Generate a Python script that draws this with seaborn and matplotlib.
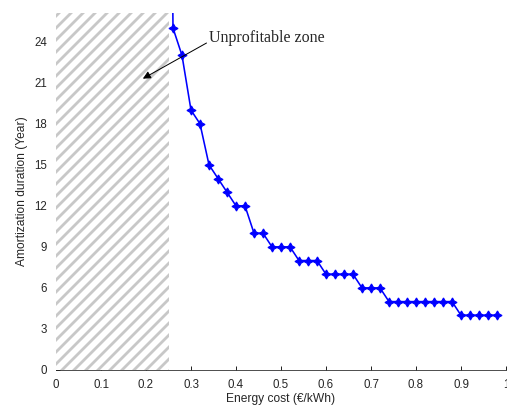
import numpy as np
import matplotlib
matplotlib.use("Agg")
import matplotlib.pyplot as plt
import seaborn as sns
import pandas as pd

# Energy cost (EUR/kWh) and amortization duration (years)
energy_cost = [0.25, 0.26, 0.28, 0.30, 0.32, 0.34, 0.36, 0.38, 0.40, 0.42, 0.44,
               0.46, 0.48, 0.50, 0.52, 0.54, 0.56, 0.58, 0.60, 0.62, 0.64,
               0.66, 0.68, 0.70, 0.72, 0.74, 0.76, 0.78, 0.80, 0.82, 0.84,
               0.86, 0.88, 0.90, 0.92, 0.94, 0.96, 0.98]
duration = [60, 25, 23, 19, 18, 15, 14, 13, 12, 12, 10,
            10, 9, 9, 9, 8, 8, 8, 7, 7, 7,
            7, 6, 6, 6, 5, 5, 5, 5, 5, 5,
            5, 5, 4, 4, 4, 4, 4]
x_ticks = [0, 0.1, 0.2, 0.3, 0.4, 0.5, 0.6, 0.7, 0.8, 0.9, 1]
x_tick_labels = ["0", "0.1", "0.2", "0.3", "0.4", "0.5", "0.6", "0.7", "0.8", "0.9", "1"]
y_ticks = [0, 3, 6, 9, 12, 15, 18, 21, 24]
zone_limit = 0.25

df = pd.DataFrame({"cost": energy_cost, "years": duration})

sns.set_style("ticks")
plt.rcParams["font.family"] = ["Liberation Sans", "DejaVu Sans"]
plt.rcParams["hatch.linewidth"] = 2.8
plt.rcParams["xtick.direction"] = "in"
plt.rcParams["ytick.direction"] = "in"

fig = plt.figure(figsize=(507 / 72, 411 / 72), dpi=72)
ax = fig.add_axes([56 / 507, 41 / 411, 450 / 507, 357 / 411])

# unprofitable zone
ax.axvspan(0, zone_limit, facecolor="white", edgecolor="#c8c8c8",
           hatch="//", linewidth=0, zorder=2.6)

sns.lineplot(data=df, x="cost", y="years", ax=ax, color="#0000ff",
             linewidth=1.6, marker=(4, 1, 0), markersize=9,
             markeredgecolor="#0000ff", markeredgewidth=1.2, zorder=3)

ax.annotate("Unprofitable zone", xy=(0.193, 21.3), xytext=(0.34, 24.3),
            fontsize=16, family=["Liberation Serif", "DejaVu Serif"],
            va="center", ha="left",
            arrowprops=dict(arrowstyle="-|>", color="black", lw=1,
                            mutation_scale=16, shrinkA=0, shrinkB=0,
                            relpos=(0, 0.25)))

ax.set_xlim(0, 1)
ax.set_ylim(0, 26.1)
ax.set_xticks(x_ticks)
ax.set_xticklabels(x_tick_labels)
ax.set_yticks(y_ticks)
ax.tick_params(labelsize=11.5, length=4, width=1, pad=9)
ax.set_xlabel("Energy cost (€/kWh)", fontsize=12, labelpad=2)
ax.set_ylabel("Amortization duration (Year)", fontsize=12, labelpad=6)
sns.despine(ax=ax)

fig.savefig("out.png", dpi=72)
